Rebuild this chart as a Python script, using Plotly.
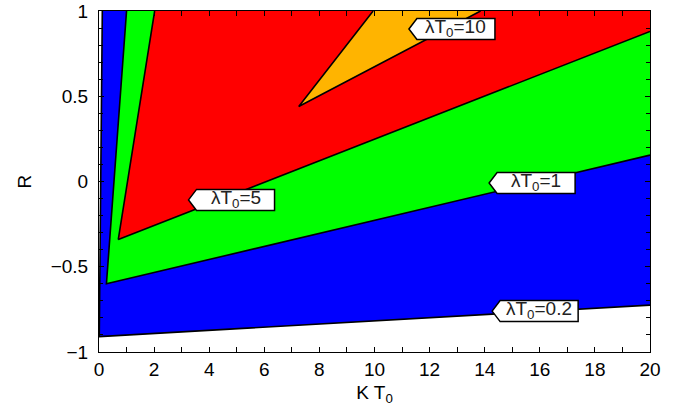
import plotly.graph_objects as go

# ---- data ----
levels = [0.2, 1, 5, 10]
level_labels = ["λT<sub>0</sub>=0.2", "λT<sub>0</sub>=1", "λT<sub>0</sub>=5", "λT<sub>0</sub>=10"]
fill_colors = ["#0000FF", "#00FF00", "#FF0000", "#FFB400"]

# contour vertices (K T0, R)
c02_x = [0.12, 0.01, 20.0]
c02_y = [1.0, -0.91, -0.725]
c1_x = [1.0, 0.27, 20.0]
c1_y = [1.0, -0.60, 0.155]
c5_x = [2.02, 0.70, 20.0]
c5_y = [1.0, -0.34, 0.88]
c10_x = [9.95, 7.25, 13.85]
c10_y = [1.0, 0.44, 1.0]

contours_x = [c02_x, c1_x, c5_x, c10_x]
contours_y = [c02_y, c1_y, c5_y, c10_y]

# label tip positions (K T0, R) in order of levels
label_x = [14.27, 14.16, 3.25, 11.25]
label_y = [-0.76, -0.009, -0.108, 0.894]

x_ticks = list(range(0, 21, 2))
y_ticks = [-1, -0.5, 0, 0.5, 1]

XMAX, YMAX = 20.0, 1.0
FONT = "Liberation Sans, Arial"

fig = go.Figure()

# filled regions (each region lies above/right of its contour)
for cx, cy, col in zip(contours_x, contours_y, fill_colors):
    px = list(cx)
    py = list(cy)
    if px[-1] == XMAX:
        px.append(XMAX)
        py.append(YMAX)
    px.append(px[0])
    py.append(py[0])
    fig.add_trace(go.Scatter(x=px, y=py, mode="lines", fill="toself",
                             fillcolor=col, line=dict(width=0),
                             hoverinfo="skip", showlegend=False))

# contour lines
for cx, cy in zip(contours_x, contours_y):
    fig.add_trace(go.Scatter(x=cx, y=cy, mode="lines",
                             line=dict(color="black", width=1.6),
                             hoverinfo="skip", showlegend=False))

# contour labels: pointed white boxes
BOX_W, BOX_H, TIP = 78, 21, 8
shapes = []
annotations = []
for lx, ly, txt in zip(label_x, label_y, level_labels):
    h = BOX_H / 2
    path = (f"M 0,0 L {TIP},{h} L {TIP + BOX_W},{h} "
            f"L {TIP + BOX_W},{-h} L {TIP},{-h} Z")
    shapes.append(dict(type="path", xref="x", yref="y",
                       xsizemode="pixel", ysizemode="pixel",
                       xanchor=lx, yanchor=ly, path=path,
                       fillcolor="white", line=dict(color="black", width=1.5),
                       layer="above"))
    annotations.append(dict(x=lx, y=ly, xref="x", yref="y", text=txt,
                            showarrow=False, xanchor="center", yanchor="middle",
                            xshift=TIP + BOX_W / 2, yshift=1,
                            font=dict(family=FONT, size=19, color="#222222")))

axis_common = dict(showgrid=False, zeroline=False, showline=True,
                   linecolor="black", linewidth=1, mirror="allticks",
                   ticks="inside", ticklen=5, tickcolor="black",
                   ticklabeloverflow="allow",
                   tickfont=dict(family=FONT, size=19, color="black"))

fig.update_layout(
    width=696, height=410,
    margin=dict(l=99, r=46, t=11, b=58),
    paper_bgcolor="white", plot_bgcolor="white",
    shapes=shapes, annotations=annotations,
    xaxis=dict(range=[0, 20], tickvals=x_ticks,
               minor=dict(dtick=1, ticks="inside", ticklen=5, tickcolor="black"),
               title=dict(text="K T<sub>0</sub>", standoff=6,
                          font=dict(family=FONT, size=19, color="black")),
               automargin=False, **axis_common),
    yaxis=dict(range=[-1, 1], tickvals=y_ticks,
               ticktext=["\u22121", "\u22120.5", "0", "0.5", "1"],
               minor=dict(dtick=0.1, ticks="inside", ticklen=4, tickcolor="black"),
               ticklabelstandoff=6,
               title=dict(text="R", standoff=14,
                          font=dict(family=FONT, size=19, color="black")),
               automargin=False, **axis_common),
)

fig.write_html("out.html",
               config={"displayModeBar": False},
               post_script="document.body.style.margin='0';document.body.style.padding='0';")
